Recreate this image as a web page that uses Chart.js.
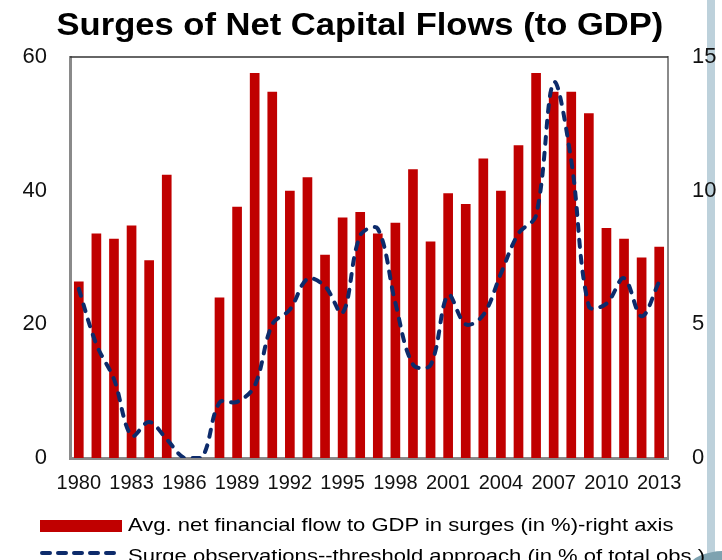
<!DOCTYPE html>
<html>
<head>
<meta charset="utf-8">
<script src="https://cdn.jsdelivr.net/npm/chart.js@4/dist/chart.umd.min.js"></script>
<style>
  html, body { margin: 0; padding: 0; background: #fff; }
  #wrap { position: relative; width: 722px; height: 560px; overflow: hidden; font-family: "Liberation Sans", Arial, sans-serif; color: #000; }
  #band { position: absolute; left: 707px; top: 0; width: 8px; height: 560px; background: #bdd1db; z-index: 0; }
  #blob { position: absolute; left: 690px; top: 551px; width: 70px; height: 30px; border-radius: 50%; background: #7ea2b0; z-index: 0; }
  #chart { position: absolute; left: 0; top: 0; z-index: 1; }
  #title { position: absolute; left: 0; top: 8px; width: 720px; text-align: center; font-weight: bold; font-size: 32px; line-height: 1; white-space: nowrap; z-index: 2; }
  #title span { display: inline-block; transform: scaleX(1.08); transform-origin: center; }
  .leg { position: absolute; left: 128px; font-size: 19px; line-height: 1; white-space: nowrap; transform: scaleX(1.16); transform-origin: left top; z-index: 2; }
  #swatchBar { position: absolute; left: 40px; top: 520px; width: 82px; height: 12px; background: #c00000; z-index: 2; }
  #swatchLine { position: absolute; left: 38px; top: 547px; z-index: 2; }
</style>
</head>
<body>
<div id="wrap">
  <div id="band"></div>
  <div id="blob"></div>
  <canvas id="chart" width="722" height="560"></canvas>
  <div id="title"><span>Surges of Net Capital Flows (to GDP)</span></div>
  <div id="swatchBar"></div>
  <svg id="swatchLine" width="90" height="12"><line x1="4" y1="6" x2="84" y2="6" stroke="#0d2b6b" stroke-width="4" stroke-linecap="round" stroke-dasharray="8 8"/></svg>
  <div class="leg" style="top:515px">Avg. net financial flow to GDP in surges (in %)-right axis</div>
  <div class="leg" style="top:546px">Surge observations--threshold approach (in % of total obs.)</div>
</div>
<script>
// Years on the category axis
const years = [];
for (let y = 1980; y <= 2013; y++) years.push(String(y));

// Average net financial flow to GDP in surge episodes (%), right axis
const avgFlowToGdp = [
  6.6, 8.4, 8.2, 8.7, 7.4, 10.6, null, null, 6.0, 9.4,
  14.4, 13.7, 10.0, 10.5, 7.6, 9.0, 9.2, 8.4, 8.8, 10.8,
  8.1, 9.9, 9.5, 11.2, 10.0, 11.7, 14.4, 13.7, 13.7, 12.9,
  8.6, 8.2, 7.5, 7.9
];

// Surge observations, threshold approach (% of total observations), left axis
const surgeShare = [
  25.3, 17.0, 11.8, 3.3, 5.4, 2.8, 0, 0, 8.3, 8.4,
  10.8, 20.0, 22.2, 26.8, 25.7, 21.7, 33.3, 34.3, 23.2, 14.0,
  13.9, 24.4, 20.0, 21.4, 27.6, 33.6, 36.3, 56.2, 44.5, 22.7,
  23.1, 26.9, 21.2, 26.4
];

// Tick values for the two value axes
const leftTicks = [0, 20, 40, 60];
const rightTicks = [0, 5, 10, 15];

const FONT = '"Liberation Sans", Arial, sans-serif';

// Dark frame line along the top of the plot area
const topFrame = {
  id: 'topFrame',
  afterDraw(chart) {
    const { ctx, chartArea: a } = chart;
    ctx.save();
    ctx.strokeStyle = '#333333';
    ctx.lineWidth = 1.5;
    ctx.beginPath();
    ctx.moveTo(a.left, a.top);
    ctx.lineTo(a.right, a.top);
    ctx.stroke();
    ctx.restore();
  }
};

new Chart(document.getElementById('chart'), {
  data: {
    labels: years,
    datasets: [
      {
        type: 'line',
        label: 'Surge observations--threshold approach (in % of total obs.)',
        data: surgeShare,
        yAxisID: 'y',
        borderColor: '#0d2b6b',
        borderWidth: 4,
        borderDash: [7, 9],
        borderCapStyle: 'round',
        tension: 0.35,
        pointRadius: 0,
        fill: false
      },
      {
        type: 'bar',
        label: 'Avg. net financial flow to GDP in surges (in %)-right axis',
        data: avgFlowToGdp,
        yAxisID: 'y1',
        backgroundColor: '#c00000',
        categoryPercentage: 1,
        barPercentage: 0.55
      }
    ]
  },
  options: {
    responsive: false,
    devicePixelRatio: 1,
    animation: false,
    layout: { padding: { top: 57, left: 0, right: 0, bottom: 0 } },
    plugins: { legend: { display: false }, tooltip: { enabled: false }, title: { display: false } },
    scales: {
      x: {
        type: 'category',
        offset: true,
        grid: { display: false, drawTicks: false },
        border: { display: true, color: '#8a8a8a', width: 3 },
        ticks: {
          autoSkip: false, maxRotation: 0, minRotation: 0, padding: 13,
          color: '#111', font: { family: FONT, size: 20 },
          callback: (v, i) => (i % 3 === 0 ? years[i] : '')
        },
        afterFit: s => { s.height = 102; }
      },
      y: {
        position: 'left', min: 0, max: 60,
        grid: { display: false, drawTicks: false },
        border: { display: true, color: '#8a8a8a', width: 3 },
        afterBuildTicks: s => { s.ticks = leftTicks.map(v => ({ value: v })); },
        ticks: { padding: 23, color: '#111', font: { family: FONT, size: 22 } },
        afterFit: s => { s.width = 70; }
      },
      y1: {
        position: 'right', min: 0, max: 15,
        grid: { display: false, drawTicks: false },
        border: { display: true, color: '#8a8a8a', width: 2 },
        afterBuildTicks: s => { s.ticks = rightTicks.map(v => ({ value: v })); },
        ticks: { padding: 24, color: '#111', font: { family: FONT, size: 22 } },
        afterFit: s => { s.width = 54; }
      }
    }
  },
  plugins: [topFrame]
});
</script>
</body>
</html>
